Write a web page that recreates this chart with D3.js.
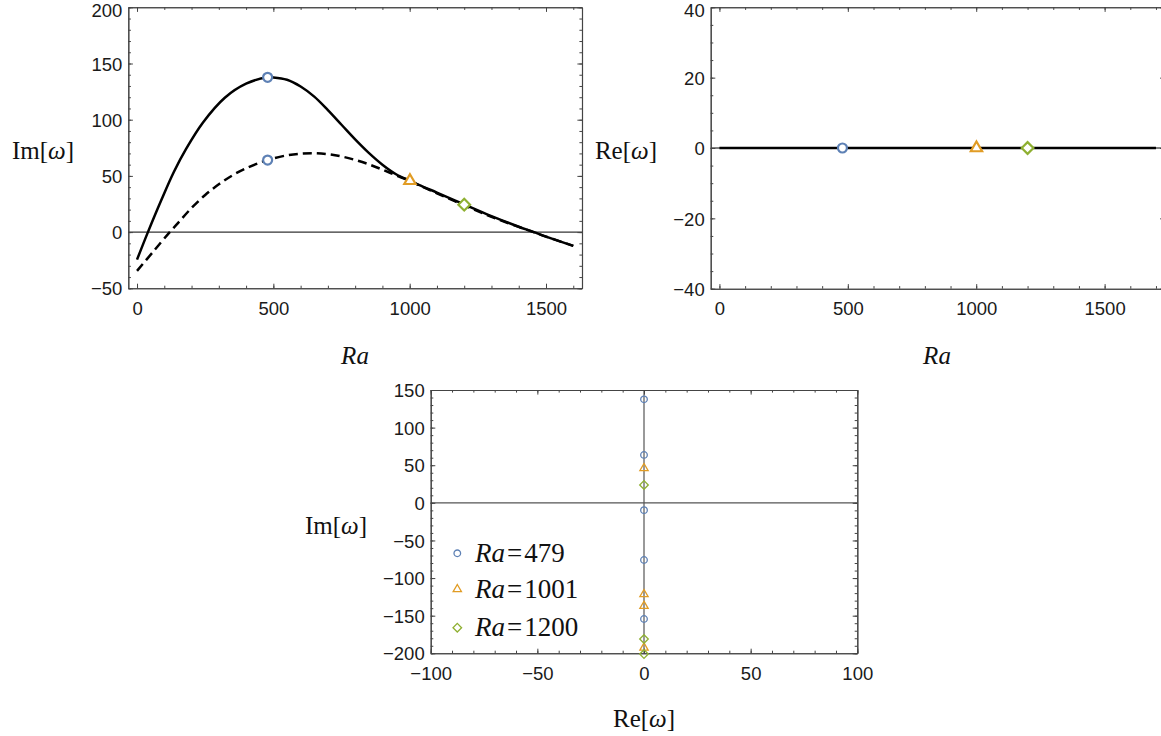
<!DOCTYPE html>
<html><head><meta charset="utf-8">
<script src="https://cdn.jsdelivr.net/npm/d3@7"></script>
<style>
body{margin:0;background:#fff;}
svg{display:block;}
.tick text{font-family:"Liberation Sans",Arial,sans-serif;font-size:18.5px;fill:#1a1a1a;}
.lab{font-family:"Liberation Serif","Times New Roman",serif;font-size:25px;fill:#111;}
</style></head>
<body><svg id="c" width="1161" height="736"></svg>
<script>
// ---- data ----
const raSolid = [0,40,90,135,180,242,322,400,479,500,550,600,650,700,750,800,850,900,950,1000,1050,1100,1200,1300,1400,1456,1500,1600];
const imSolid = [-24.5,0,29,53.5,74,97.5,119.5,132,137.7,137.6,135.5,129.5,120.5,108.5,95.5,82.5,70.5,60,51.5,45.8,40.3,35.2,24.6,14.2,4.8,0,-4,-12.2];
const raDashed = [0,60,120,150,200,250,300,350,400,450,479,500,550,600,650,700,750,800,850,900,950,1000,1050,1100,1200,1300,1400,1500,1600];
const imDashed = [-34.5,-17.2,0,8,21.5,33,42.5,50.5,56.8,61.7,64.1,65.6,68.3,69.8,70.2,69.3,67.3,64.2,60.3,55.6,50.5,45.5,40,34.5,23.9,13.6,4.6,-4,-12.2];
const raRe = [0,1700];
const reVals = [0,0];
const markRa = [479,479,1001,1200];
const markIm = [137.7,64.1,45.7,24.4];
const markRe = [0,0,0,0];
const markType = ["circle","circle","triangle","diamond"];
const im479 = [137.6,63.7,-9.7,-76,-154.4];
const re479 = [0,0,0,0,0];
const im1001 = [46,-121.6,-137.1,-192.5];
const re1001 = [0,0,0,0];
const im1200 = [23.8,-181,-201];
const re1200 = [0,0,0];
const legendLabels = ["479","1001","1200"];
const xTicks1 = [0,500,1000,1500];
const yTicks1 = [-50,0,50,100,150,200];
const yTicks2 = [-40,-20,0,20,40];
const xTicks3 = [-100,-50,0,50,100];
const yTicks3 = [-200,-150,-100,-50,0,50,100,150];

const colors = {circle:"#5E81B5", triangle:"#E19C24", diamond:"#8FB032"};

const svg = d3.select("#c");

function markerPath(type, s){
  if(type==="circle") return `M${s},0A${s},${s} 0 1,1 ${-s},0A${s},${s} 0 1,1 ${s},0Z`;
  if(type==="triangle"){const R=s*1.45; return `M0,${-R}L${R*0.866},${R/2}L${-R*0.866},${R/2}Z`;}
  const d=s*1.3; return `M0,${-d}L${d},0L0,${d}L${-d},0Z`;
}

function range(a,b,step){const r=[];for(let v=a;v<=b+1e-9;v+=step)r.push(Math.round(v*1000)/1000);return r;}

function frame(g,x,y,xMaj,xMin,yMaj,yMin){
  const [x0,x1]=x.range(), [y0,y1]=y.range();
  const fmt=d3.format("d");
  const style=s=>{s.selectAll("path,line").attr("stroke","#444").attr("stroke-width",1);};
  g.append("g").attr("transform",`translate(0,${y0})`).call(d3.axisBottom(x).tickValues(xMin).tickSizeInner(-2.6).tickSizeOuter(0).tickFormat("")).call(style);
  g.append("g").attr("transform",`translate(0,${y0})`).call(d3.axisBottom(x).tickValues(xMaj).tickSizeInner(-4.6).tickSizeOuter(0).tickPadding(13.5).tickFormat(fmt)).call(style);
  g.append("g").attr("transform",`translate(0,${y1})`).call(d3.axisTop(x).tickValues(xMin).tickSizeInner(-2.6).tickSizeOuter(0).tickFormat("")).call(style);
  g.append("g").attr("transform",`translate(0,${y1})`).call(d3.axisTop(x).tickValues(xMaj).tickSizeInner(-4.6).tickSizeOuter(0).tickFormat("")).call(style);
  g.append("g").attr("transform",`translate(${x0},0)`).call(d3.axisLeft(y).tickValues(yMin).tickSizeInner(-2.6).tickSizeOuter(0).tickFormat("")).call(style);
  const la=g.append("g").attr("transform",`translate(${x0},0)`).call(d3.axisLeft(y).tickValues(yMaj).tickSizeInner(-4.6).tickSizeOuter(0).tickPadding(6).tickFormat(fmt)).call(style);
  la.selectAll("text").attr("dy",d=>(y(d)<12?"0.52em":"0.36em"));
  g.append("g").attr("transform",`translate(${x1},0)`).call(d3.axisRight(y).tickValues(yMin).tickSizeInner(-2.6).tickSizeOuter(0).tickFormat("")).call(style);
  g.append("g").attr("transform",`translate(${x1},0)`).call(d3.axisRight(y).tickValues(yMaj).tickSizeInner(-4.6).tickSizeOuter(0).tickFormat("")).call(style);
  g.selectAll(".domain").attr("stroke","#444").attr("stroke-width",1.1);
}

function label(g, parts, x, y, anchor){
  const t=g.append("text").attr("class","lab").attr("x",x).attr("y",y).attr("text-anchor",anchor);
  parts.forEach(p=>t.append("tspan").attr("font-style",p[1]?"italic":"normal").text(p[0]));
  return t;
}
const imLab=[["Im[",0],["ω",1],["]",0]];
const reLab=[["Re[",0],["ω",1],["]",0]];

// ---- Panel 1 ----
{
  const g=svg.append("g");
  const x=d3.scaleLinear().domain([-32,1632]).range([128.3,582]);
  const y=d3.scaleLinear().domain([-50,200]).range([288.3,7.3]);
  g.append("line").attr("x1",x.range()[0]).attr("x2",x.range()[1]).attr("y1",y(0)).attr("y2",y(0)).attr("stroke","#000").attr("stroke-width",1);
  const line=d3.line().x(d=>x(d[0])).y(d=>y(d[1])).curve(d3.curveCatmullRom.alpha(0.5));
  g.append("path").attr("d",line(d3.zip(raDashed,imDashed))).attr("fill","none").attr("stroke","#000").attr("stroke-width",2.5).attr("stroke-dasharray","9,5");
  g.append("path").attr("d",line(d3.zip(raSolid,imSolid))).attr("fill","none").attr("stroke","#000").attr("stroke-width",2.5);
  markRa.forEach((r,i)=>{
    g.append("path").attr("d",markerPath(markType[i],4.5)).attr("transform",`translate(${x(r)},${y(markIm[i])})`)
     .attr("fill","#fff").attr("stroke",colors[markType[i]]).attr("stroke-width",2.2);
  });
  frame(g,x,y,xTicks1,range(0,1600,100),yTicks1,range(-50,200,10));
  label(g,imLab,74,159,"end");
  label(g,[["Ra",1]],355,364,"middle");
}
// ---- Panel 2 ----
{
  const g=svg.append("g");
  const x=d3.scaleLinear().domain([-34,1734]).range([710.7,1164.7]);
  const y=d3.scaleLinear().domain([-40,40]).range([288.7,7.3]);
  g.append("line").attr("x1",x.range()[0]).attr("x2",x.range()[1]).attr("y1",y(0)).attr("y2",y(0)).attr("stroke","#000").attr("stroke-width",1);
  const line=d3.line().x(d=>x(d[0])).y(d=>y(d[1]));
  g.append("path").attr("d",line(d3.zip(raRe,reVals))).attr("fill","none").attr("stroke","#000").attr("stroke-width",2.7);
  markRa.forEach((r,i)=>{
    if(i===1) return;
    g.append("path").attr("d",markerPath(markType[i],4.5)).attr("transform",`translate(${x(r)},${y(markRe[i])})`)
     .attr("fill","#fff").attr("stroke",colors[markType[i]]).attr("stroke-width",2.2);
  });
  frame(g,x,y,xTicks1,range(0,1700,100),yTicks2,range(-40,40,5));
  label(g,reLab,657,159,"end");
  label(g,[["Ra",1]],937,364,"middle");
}
// ---- Panel 3 ----
{
  const g=svg.append("g");
  const x=d3.scaleLinear().domain([-100,100]).range([430.7,857.3]);
  const y=d3.scaleLinear().domain([-200,150]).range([653.3,390]);
  g.append("line").attr("x1",x.range()[0]).attr("x2",x.range()[1]).attr("y1",y(0)).attr("y2",y(0)).attr("stroke","#555").attr("stroke-width",1.2);
  g.append("line").attr("x1",x(0)).attr("x2",x(0)).attr("y1",y.range()[0]).attr("y2",y.range()[1]).attr("stroke","#555").attr("stroke-width",1.2);
  frame(g,x,y,xTicks3,range(-100,100,10),yTicks3,range(-200,150,10));
  const sets=[[re479,im479,"circle"],[re1001,im1001,"triangle"],[re1200,im1200,"diamond"]];
  sets.forEach(([re,im,t])=>{
    re.forEach((v,i)=>{
      g.append("path").attr("d",markerPath(t,3.3)).attr("transform",`translate(${x(v)},${y(im[i])})`)
       .attr("fill","none").attr("stroke",colors[t]).attr("stroke-width",1.3);
    });
  });
  // legend
  const ly=[553.3,589.3,627.7];
  sets.forEach(([re,im,t],i)=>{
    g.append("path").attr("d",markerPath(t,3.3)).attr("transform",`translate(457.3,${ly[i]})`)
     .attr("fill","none").attr("stroke",colors[t]).attr("stroke-width",1.3);
    const tx=g.append("text").attr("class","lab").attr("x",475).attr("y",ly[i]+8.5).style("font-size","27px");
    tx.append("tspan").attr("font-style","italic").text("Ra");
    tx.append("tspan").attr("dx",2).text("=");
    tx.append("tspan").attr("dx",2).text(legendLabels[i]);
  });
  label(g,imLab,367,534,"end");
  label(g,reLab,644,727,"middle");
}
</script></body></html>
